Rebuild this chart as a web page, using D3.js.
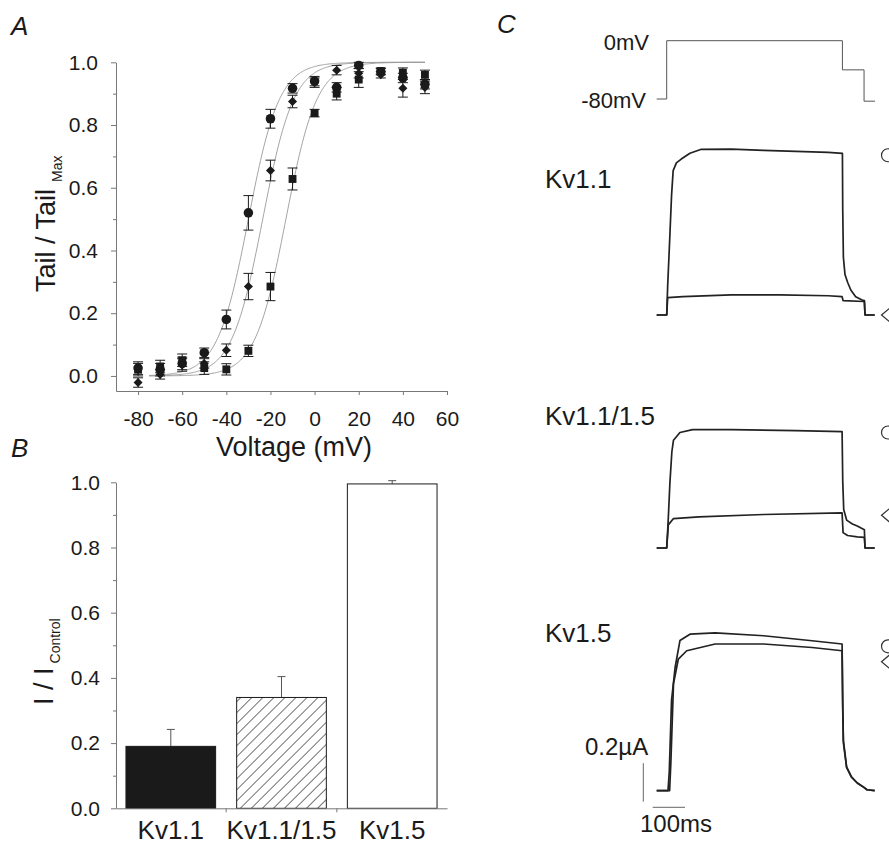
<!DOCTYPE html>
<html>
<head>
<meta charset="utf-8">
<script src="https://cdn.jsdelivr.net/npm/d3@7"></script>
<style>
body { margin: 0; background: #fff; }
svg { display: block; font-family: "Liberation Sans", Arial, sans-serif; }
</style>
</head>
<body>
<div id="vis"></div>
<script>
const w = 889;
const h = 845;

// ---- panel A data ----
const seriesNames = ['Kv1.1', 'Kv1.1/1.5', 'Kv1.5'];
const voltages = [-80, -70, -60, -50, -40, -30, -20, -10, 0, 10, 20, 30, 40, 50];
const kv11Tail = [0.025, 0.02, 0.04, 0.074, 0.18, 0.52, 0.82, 0.917, 0.94, 0.92, 0.99, 0.97, 0.95, 0.93];
const kv11Err = [0.02, 0.02, 0.02, 0.015, 0.03, 0.055, 0.03, 0.015, 0.015, 0.015, 0.01, 0.01, 0.015, 0.015];
const kv1115Tail = [-0.021, 0.005, 0.035, 0.04, 0.082, 0.285, 0.655, 0.875, 0.935, 0.975, 0.965, 0.96, 0.917, 0.92];
const kv1115Err = [0.015, 0.015, 0.02, 0.015, 0.02, 0.042, 0.033, 0.02, 0.015, 0.015, 0.015, 0.01, 0.028, 0.02];
const kv15Tail = [0.02, 0.03, 0.05, 0.025, 0.021, 0.08, 0.285, 0.628, 0.838, 0.9, 0.945, 0.972, 0.967, 0.96];
const kv15Err = [0.02, 0.02, 0.02, 0.02, 0.018, 0.018, 0.045, 0.035, 0.012, 0.02, 0.025, 0.01, 0.015, 0.015];
// Boltzmann fits
const halfVoltages = [-30, -23.5, -13];
const slopes = [7, 7, 7];
const fitRange = [-75, 50];
const yTicksA = [0, 0.2, 0.4, 0.6, 0.8, 1.0];
const xTicksA = [-80, -60, -40, -20, 0, 20, 40, 60];

// ---- panel B data ----
const barValues = [0.19, 0.34, 0.995];
const barErrors = [0.052, 0.064, 0.01];
const yTicksB = [0, 0.2, 0.4, 0.6, 0.8, 1.0];

// ---- panel C data: [time ms, current uA] ----
const protocol = [[-31, -80], [0, -80], [0, 0], [544, 0], [544, -40], [611, -40], [611, -83], [645, -83]];
const kv11Control = [[-31, 0], [0, 0], [3, 0.15], [10, 0.42], [15, 0.62], [20, 0.75], [30, 0.79], [45, 0.81], [72, 0.84], [105, 0.86],
  [200, 0.862], [300, 0.855], [400, 0.85], [500, 0.845], [544, 0.84], [545, 0.55], [547, 0.3], [552, 0.21], [560, 0.17],
  [570, 0.13], [585, 0.095], [605, 0.078], [612, 0.075], [614, 0], [644, 0]];
const kv11Drug = [[-31, 0], [0, 0], [3, 0.09], [50, 0.095], [200, 0.105], [350, 0.105], [500, 0.1], [543, 0.095], [546, 0.075],
  [612, 0.07], [614, 0], [644, 0]];
const kv1115Control = [[-31, 0], [0, 0], [4, 0.12], [10, 0.34], [16, 0.5], [21, 0.56], [41, 0.6], [80, 0.615], [200, 0.615],
  [400, 0.61], [543, 0.605], [545, 0.35], [548, 0.2], [557, 0.145], [575, 0.125], [590, 0.114], [612, 0.095], [614, 0], [644, 0]];
const kv1115Drug = [[-31, 0], [0, 0], [5, 0.12], [21, 0.153], [100, 0.162], [300, 0.174], [543, 0.182], [546, 0.08],
  [560, 0.065], [590, 0.058], [612, 0.055], [614, 0], [644, 0]];
const kv15Control = [[-31, 0], [4, 0], [8, 0.1], [15, 0.47], [26, 0.64], [41, 0.78], [72, 0.813], [150, 0.82], [300, 0.805],
  [450, 0.779], [543, 0.762], [545, 0.45], [547, 0.262], [557, 0.124], [572, 0.072], [590, 0.04], [608, 0.021], [620, 0.005], [644, 0]];
const kv15Drug = [[-31, 0], [9, 0], [13, 0.15], [21, 0.555], [36, 0.684], [62, 0.727], [150, 0.762], [300, 0.762], [450, 0.744],
  [543, 0.727], [545, 0.42], [547, 0.25], [557, 0.12], [572, 0.07], [590, 0.04], [608, 0.02], [620, 0.005], [644, 0]];
const circleLevels = [0.83, 0.6, 0.75];
const diamondLevels = [0.0, 0.17, 0.67];

const ink = '#1a1a1a';
const axisColor = '#777';

const svg = d3.select('#vis')
    .append('svg')
    .attr('width', w)
    .attr('height', h);

function styleAxis(g, fontSize) {
    g.select('.domain').attr('stroke', axisColor);
    g.selectAll('.tick line').attr('stroke', axisColor);
    g.selectAll('.tick text').attr('fill', ink).attr('font-size', fontSize)
        .attr('font-family', '"Liberation Sans", Arial, sans-serif');
}

// panel letters
[['A', 11, 35], ['B', 11, 457], ['C', 497, 33]].forEach(l => {
    svg.append('text').attr('x', l[1]).attr('y', l[2]).text(l[0])
        .attr('font-size', 26).attr('font-style', 'italic').attr('fill', ink);
});

// ================= panel A =================
const xA = d3.scaleLinear().domain([-90, 60]).range([116, 447]);
const yA = d3.scaleLinear().domain([-0.048, 1]).range([391, 62.3]);

svg.append('g')
    .attr('transform', 'translate(0,391)')
    .call(d3.axisBottom(xA).tickValues(xTicksA).tickFormat(d => String(d)).tickSize(4).tickSizeOuter(0).tickPadding(16))
    .call(g => styleAxis(g, 21));

svg.append('g')
    .attr('transform', 'translate(116,0)')
    .call(d3.axisLeft(yA).tickValues(yTicksA).tickFormat(d3.format('.1f')).tickSize(5).tickSizeOuter(0).tickPadding(13))
    .call(g => styleAxis(g, 21));

svg.append('g')
    .attr('transform', 'translate(116,0)')
    .call(d3.axisLeft(yA).tickValues([0.1, 0.3, 0.5, 0.7, 0.9]).tickFormat('').tickSize(3).tickSizeOuter(0))
    .call(g => { g.select('.domain').remove(); styleAxis(g, 21); });

svg.append('text')
    .attr('x', 294).attr('y', 456)
    .attr('text-anchor', 'middle')
    .attr('font-size', 27).attr('fill', ink)
    .text('Voltage (mV)');

const titleA = svg.append('text')
    .attr('transform', 'translate(55,292) rotate(-90)')
    .attr('font-size', 27).attr('fill', ink);
titleA.append('tspan').text('Tail / Tail');
titleA.append('tspan').attr('dx', 7).attr('dy', 7).attr('font-size', 14).text('Max');

// fitted curves
const fitLine = d3.line().x(d => xA(d[0])).y(d => yA(d[1]));
halfVoltages.forEach((vh, i) => {
    const pts = d3.range(fitRange[0], fitRange[1] + 0.5, 0.5)
        .map(v => [v, 1 / (1 + Math.exp((vh - v) / slopes[i]))]);
    svg.append('path')
        .attr('d', fitLine(pts))
        .attr('fill', 'none')
        .attr('stroke', '#9a9a9a')
        .attr('stroke-width', 0.9);
});

const seriesA = [
    { name: seriesNames[0], values: kv11Tail, errors: kv11Err, symbol: d3.symbolCircle, size: 72 },
    { name: seriesNames[1], values: kv1115Tail, errors: kv1115Err, symbol: d3.symbolDiamond2 || d3.symbolDiamond, size: 52 },
    { name: seriesNames[2], values: kv15Tail, errors: kv15Err, symbol: d3.symbolSquare, size: 62 }
];

seriesA.forEach(s => {
    const pts = voltages.map((v, i) => ({ v: v, y: s.values[i], e: s.errors[i] }));
    const g = svg.append('g');
    g.selectAll('line.err')
        .data(pts)
        .join('line')
        .attr('x1', d => xA(d.v)).attr('x2', d => xA(d.v))
        .attr('y1', d => yA(d.y - d.e)).attr('y2', d => yA(d.y + d.e))
        .attr('stroke', ink).attr('stroke-width', 1);
    [-1, 1].forEach(sign => {
        g.selectAll('line.cap' + sign)
            .data(pts)
            .join('line')
            .attr('x1', d => xA(d.v) - 5).attr('x2', d => xA(d.v) + 5)
            .attr('y1', d => yA(d.y + sign * d.e)).attr('y2', d => yA(d.y + sign * d.e))
            .attr('stroke', ink).attr('stroke-width', 1);
    });
    g.selectAll('path')
        .data(pts)
        .join('path')
        .attr('transform', d => 'translate(' + xA(d.v) + ',' + yA(d.y) + ')')
        .attr('d', d3.symbol().type(s.symbol).size(s.size))
        .attr('fill', ink);
});

// ================= panel B =================
const xB = d3.scaleBand().domain(seriesNames).range([116, 447]).paddingInner(0.19).paddingOuter(0.09);
const yB = d3.scaleLinear().domain([0, 1]).range([808.3, 482.3]);

const defs = svg.append('defs');
defs.append('pattern')
    .attr('id', 'hatch')
    .attr('patternUnits', 'userSpaceOnUse')
    .attr('width', 7.8).attr('height', 7.8)
    .attr('patternTransform', 'rotate(45)')
    .append('line')
    .attr('x1', 0).attr('y1', 0).attr('x2', 0).attr('y2', 7.8)
    .attr('stroke', '#333').attr('stroke-width', 1.4);

const barFills = [ink, 'url(#hatch)', '#fff'];

svg.selectAll('line.barerr')
    .data(seriesNames)
    .join('line')
    .attr('x1', d => xB(d) + xB.bandwidth() / 2).attr('x2', d => xB(d) + xB.bandwidth() / 2)
    .attr('y1', (d, i) => yB(barValues[i])).attr('y2', (d, i) => yB(barValues[i] + barErrors[i]))
    .attr('stroke', '#555').attr('stroke-width', 1);
svg.selectAll('line.barcap')
    .data(seriesNames)
    .join('line')
    .attr('x1', d => xB(d) + xB.bandwidth() / 2 - 4).attr('x2', d => xB(d) + xB.bandwidth() / 2 + 4)
    .attr('y1', (d, i) => yB(barValues[i] + barErrors[i])).attr('y2', (d, i) => yB(barValues[i] + barErrors[i]))
    .attr('stroke', '#555').attr('stroke-width', 1);

svg.selectAll('rect.bar')
    .data(seriesNames)
    .join('rect')
    .attr('x', d => xB(d))
    .attr('y', (d, i) => yB(barValues[i]))
    .attr('width', xB.bandwidth())
    .attr('height', (d, i) => yB(0) - yB(barValues[i]))
    .attr('fill', (d, i) => barFills[i])
    .attr('stroke', ink)
    .attr('stroke-width', 1);

const xAxisB = svg.append('g')
    .attr('transform', 'translate(0,808.3)')
    .call(d3.axisBottom(xB).tickSize(0).tickSizeOuter(0).tickPadding(12))
    .call(g => styleAxis(g, 26));
// separator ticks between categories
xAxisB.selectAll('line.sep')
    .data(seriesNames.slice(1))
    .join('line')
    .attr('x1', d => xB(d) - xB.step() * xB.paddingInner() / 2)
    .attr('x2', d => xB(d) - xB.step() * xB.paddingInner() / 2)
    .attr('y1', 0).attr('y2', 4)
    .attr('stroke', axisColor);

svg.append('g')
    .attr('transform', 'translate(116,0)')
    .call(d3.axisLeft(yB).tickValues(yTicksB).tickFormat(d3.format('.1f')).tickSize(5).tickSizeOuter(0).tickPadding(11))
    .call(g => styleAxis(g, 21));
svg.append('g')
    .attr('transform', 'translate(116,0)')
    .call(d3.axisLeft(yB).tickValues([0.1, 0.3, 0.5, 0.7, 0.9]).tickFormat('').tickSize(3).tickSizeOuter(0))
    .call(g => { g.select('.domain').remove(); styleAxis(g, 21); });

const titleB = svg.append('text')
    .attr('transform', 'translate(53,705) rotate(-90)')
    .attr('font-size', 27).attr('fill', ink);
titleB.append('tspan').text('I / I');
titleB.append('tspan').attr('dx', 4).attr('dy', 7).attr('font-size', 14).text('Control');

// ================= panel C =================
const tScale = d3.scaleLinear().domain([0, 100]).range([666.7, 699]);
const iScale = d3.scaleLinear().domain([0, 0.2]).range([0, -38.5]);
const vScale = d3.scaleLinear().domain([-80, 0]).range([99, 40.7]);

svg.append('path')
    .attr('d', d3.line().x(d => tScale(d[0])).y(d => vScale(d[1]))(protocol))
    .attr('fill', 'none').attr('stroke', '#555').attr('stroke-width', 1);

svg.append('text').attr('x', 649).attr('y', 50).attr('text-anchor', 'end')
    .attr('font-size', 22).attr('fill', ink).text('0mV');
svg.append('text').attr('x', 646).attr('y', 108).attr('text-anchor', 'end')
    .attr('font-size', 22).attr('fill', ink).text('-80mV');

const traceSets = [
    { name: seriesNames[0], base: 315, labelY: 188, traces: [kv11Control, kv11Drug] },
    { name: seriesNames[1], base: 548, labelY: 425, traces: [kv1115Control, kv1115Drug] },
    { name: seriesNames[2], base: 790.7, labelY: 641.7, traces: [kv15Control, kv15Drug] }
];
const traceLine = d3.line().x(d => tScale(d[0])).y(d => iScale(d[1]));

traceSets.forEach((set, k) => {
    svg.append('text').attr('x', 545).attr('y', set.labelY)
        .attr('font-size', 26).attr('fill', ink).text(set.name);
    const g = svg.append('g').attr('transform', 'translate(0,' + set.base + ')');
    set.traces.forEach(tr => {
        g.append('path')
            .attr('d', traceLine(tr))
            .attr('fill', 'none')
            .attr('stroke', '#222')
            .attr('stroke-width', 1.7)
            .attr('stroke-linejoin', 'round');
    });
    g.append('circle')
        .attr('cx', 888).attr('cy', iScale(circleLevels[k])).attr('r', 6.5)
        .attr('fill', 'none').attr('stroke', '#333').attr('stroke-width', 1.2);
    const dy = iScale(diamondLevels[k]);
    g.append('path')
        .attr('d', 'M881.5,' + dy + 'L891,' + (dy - 8) + 'L900.5,' + dy + 'L891,' + (dy + 8) + 'Z')
        .attr('fill', 'none').attr('stroke', '#333').attr('stroke-width', 1.2);
});

// scale bars
svg.append('line')
    .attr('x1', 643.3).attr('x2', 643.3)
    .attr('y1', 801.7).attr('y2', 801.7 + iScale(0.2))
    .attr('stroke', '#666').attr('stroke-width', 1);
svg.append('line')
    .attr('x1', 652.7).attr('x2', 652.7 + tScale(100) - tScale(0))
    .attr('y1', 807.3).attr('y2', 807.3)
    .attr('stroke', '#666').attr('stroke-width', 1);
svg.append('text').attr('x', 585).attr('y', 755)
    .attr('font-size', 24).attr('fill', ink).text('0.2µA');
svg.append('text').attr('x', 640).attr('y', 831.7)
    .attr('font-size', 24).attr('fill', ink).text('100ms');
</script>
</body>
</html>
